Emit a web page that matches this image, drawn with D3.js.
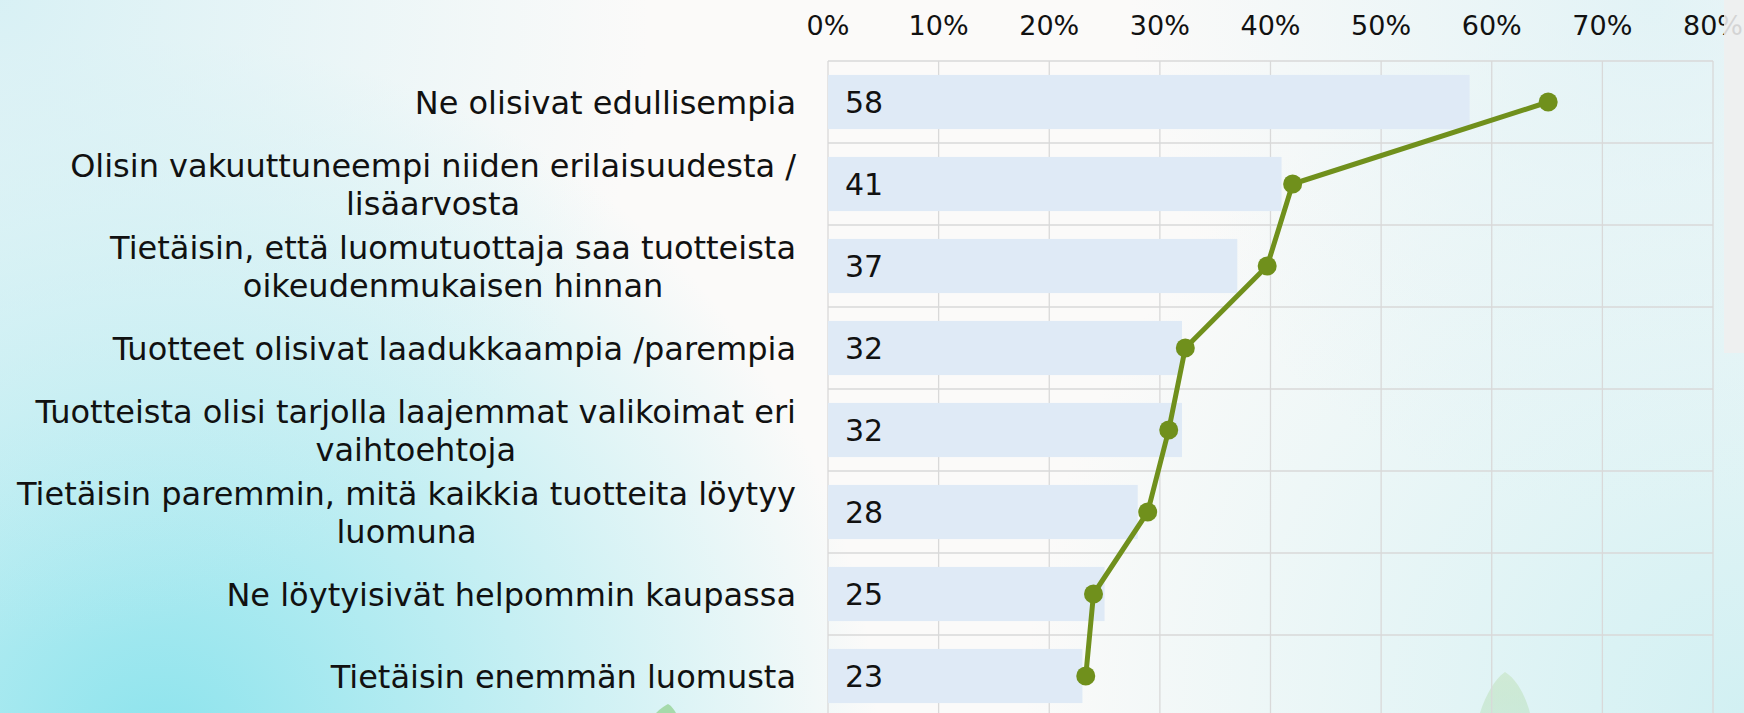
<!DOCTYPE html>
<html>
<head>
<meta charset="utf-8">
<script src="https://cdn.jsdelivr.net/npm/d3@7"></script>
<style>
  html, body { margin: 0; padding: 0; overflow: hidden; }
  svg { display: block; font-family: "DejaVu Sans", Verdana, sans-serif; }
  .grid-line { stroke: #d9d9d9; stroke-width: 1.3; }
  .bar { fill: #dfeaf6; }
  .value-label { font-size: 30px; fill: #111; }
  .cat-label { font-size: 32px; fill: #111; }
  .tick-label { font-size: 27px; fill: #111; }
  .series-line { fill: none; stroke: #70901c; stroke-width: 5; stroke-linejoin: round; }
  .series-dot { fill: #70901c; }
</style>
</head>
<body>
<div id="chart"></div>
<script>
// categories, top to bottom (\n = line break in the label)
const categories = [
  'Ne olisivat edullisempia',
  'Olisin vakuuttuneempi niiden erilaisuudesta /\nlisäarvosta',
  'Tietäisin, että luomutuottaja saa tuotteista\noikeudenmukaisen hinnan',
  'Tuotteet olisivat laadukkaampia /parempia',
  'Tuotteista olisi tarjolla laajemmat valikoimat eri\nvaihtoehtoja',
  'Tietäisin paremmin, mitä kaikkia tuotteita löytyy\nluomuna',
  'Ne löytyisivät helpommin kaupassa',
  'Tietäisin enemmän luomusta'
];

// bar values (%)
const barValues = [58, 41, 37, 32, 32, 28, 25, 23];

// line series values (%)
const lineValues = [65.1, 42.0, 39.7, 32.3, 30.8, 28.9, 24.0, 23.3];

// x axis ticks
const xTicks = [0, 0.1, 0.2, 0.3, 0.4, 0.5, 0.6, 0.7, 0.8];


class ComboChart {

  constructor(_config) {
    this.config = {
      parentElement: _config.parentElement,
      containerWidth: _config.containerWidth || 1744,
      containerHeight: _config.containerHeight || 713,
      plot: _config.plot || {left: 828, right: 1713, top: 61, bottom: 717}
    };
    this.initVis();
  }

  initVis() {
    let vis = this;
    const p = vis.config.plot;

    vis.svg = d3.select(vis.config.parentElement).append('svg')
        .attr('width', vis.config.containerWidth)
        .attr('height', vis.config.containerHeight);

    vis.drawBackground();

    vis.xScale = d3.scaleLinear()
        .domain([0, 0.8])
        .range([p.left, p.right]);

    vis.yScale = d3.scaleBand()
        .domain(categories)
        .range([p.top, p.bottom])
        .paddingInner(0.34)
        .paddingOuter(0.17);

    vis.chart = vis.svg.append('g');

    vis.renderVis();
  }

  drawBackground() {
    let vis = this;
    const defs = vis.svg.append('defs');
    const W = vis.config.containerWidth, H = vis.config.containerHeight;

    const glows = [
      {id: 'bg-bl', cx: 160, cy: 760, r: 720, color: '#85e2ec', op: 0.95},
      {id: 'bg-tl', cx: 0, cy: 0, r: 650, color: '#d2eff4', op: 0.85},
      {id: 'bg-br', cx: 1744, cy: 713, r: 720, color: '#cdeff2', op: 0.9},
      {id: 'bg-tr', cx: 1650, cy: 0, r: 520, color: '#dcf1f5', op: 0.8}
    ];

    glows.forEach(g => {
      const rg = defs.append('radialGradient')
          .attr('id', g.id)
          .attr('gradientUnits', 'userSpaceOnUse')
          .attr('cx', g.cx).attr('cy', g.cy).attr('r', g.r);
      rg.append('stop').attr('offset', 0).attr('stop-color', g.color).attr('stop-opacity', g.op);
      rg.append('stop').attr('offset', 0.45).attr('stop-color', g.color).attr('stop-opacity', g.op * 0.55);
      rg.append('stop').attr('offset', 1).attr('stop-color', g.color).attr('stop-opacity', 0);
    });

    vis.svg.append('rect')
        .attr('width', W).attr('height', H)
        .attr('fill', '#fbfaf9');

    glows.forEach(g => {
      vis.svg.append('rect')
          .attr('width', W).attr('height', H)
          .attr('fill', `url(#${g.id})`);
    });

    // faint leaf shapes near the bottom
    const leaf = defs.append('linearGradient')
        .attr('id', 'leaf').attr('x1', 0).attr('y1', 0).attr('x2', 0).attr('y2', 1);
    leaf.append('stop').attr('offset', 0).attr('stop-color', '#c9e6c8').attr('stop-opacity', 0.7);
    leaf.append('stop').attr('offset', 1).attr('stop-color', '#b5ddb6').attr('stop-opacity', 0.45);

    vis.svg.append('path')
        .attr('d', 'M1505,672 C1493,680 1484,700 1480,713 L1530,713 C1526,698 1518,680 1505,672 Z')
        .attr('fill', 'url(#leaf)');
    vis.svg.append('path')
        .attr('d', 'M668,704 C662,707 658,711 656,713 L676,713 C674,710 672,706 668,704 Z')
        .attr('fill', '#8fcf8a').attr('opacity', 0.7);
  }

  renderVis() {
    let vis = this;
    const p = vis.config.plot;
    const step = vis.yScale.step();

    // horizontal grid lines at band boundaries
    const hLines = d3.range(categories.length + 1).map(i => p.top + i * step);
    vis.chart.selectAll('.h-grid')
        .data(hLines)
      .join('line')
        .attr('class', 'grid-line h-grid')
        .attr('x1', p.left).attr('x2', p.right)
        .attr('y1', d => d).attr('y2', d => d);

    // vertical grid lines at ticks
    vis.chart.selectAll('.v-grid')
        .data(xTicks)
      .join('line')
        .attr('class', 'grid-line v-grid')
        .attr('x1', d => vis.xScale(d)).attr('x2', d => vis.xScale(d))
        .attr('y1', p.top).attr('y2', p.bottom);

    // bars
    vis.chart.selectAll('.bar')
        .data(barValues)
      .join('rect')
        .attr('class', 'bar')
        .attr('x', vis.xScale(0))
        .attr('y', (d, i) => vis.yScale(categories[i]))
        .attr('width', d => vis.xScale(d / 100) - vis.xScale(0))
        .attr('height', vis.yScale.bandwidth());

    // value labels inside bars
    vis.chart.selectAll('.value-label')
        .data(barValues)
      .join('text')
        .attr('class', 'value-label')
        .attr('x', vis.xScale(0) + 17)
        .attr('y', (d, i) => vis.yScale(categories[i]) + vis.yScale.bandwidth() / 2)
        .attr('dy', '0.37em')
        .text(d => d);

    // line series
    const center = i => vis.yScale(categories[i]) + vis.yScale.bandwidth() / 2;
    const line = d3.line()
        .x(d => vis.xScale(d / 100))
        .y((d, i) => center(i));

    vis.chart.append('path')
        .datum(lineValues)
        .attr('class', 'series-line')
        .attr('d', line);

    vis.chart.selectAll('.series-dot')
        .data(lineValues)
      .join('circle')
        .attr('class', 'series-dot')
        .attr('cx', d => vis.xScale(d / 100))
        .attr('cy', (d, i) => center(i))
        .attr('r', 9.5);

    // top axis tick labels
    vis.chart.selectAll('.tick-label')
        .data(xTicks)
      .join('text')
        .attr('class', 'tick-label')
        .attr('x', d => vis.xScale(d))
        .attr('y', 35)
        .attr('text-anchor', 'middle')
        .text(d3.format('.0%'));

    // category labels, lines centred on each other, block right-aligned
    const labelRight = 796;
    const lineGap = 38;
    categories.forEach((cat, i) => {
      const lines = cat.split('\n');
      const g = vis.chart.append('g');
      const texts = lines.map((t, j) => g.append('text')
          .attr('class', 'cat-label')
          .attr('y', center(i) + (j - (lines.length - 1) / 2) * lineGap)
          .attr('dy', '0.36em')
          .attr('text-anchor', 'middle')
          .text(t));
      const maxW = d3.max(texts, t => t.node().getComputedTextLength());
      texts.forEach(t => t.attr('x', labelRight - maxW / 2));
    });

    // grey strip on the right edge
    vis.svg.append('rect')
        .attr('x', 1724).attr('y', 0)
        .attr('width', 20).attr('height', 353)
        .attr('fill', '#efefef')
        .attr('opacity', 0.88);
  }
}

const chart = new ComboChart({ parentElement: '#chart' });
</script>
</body>
</html>
